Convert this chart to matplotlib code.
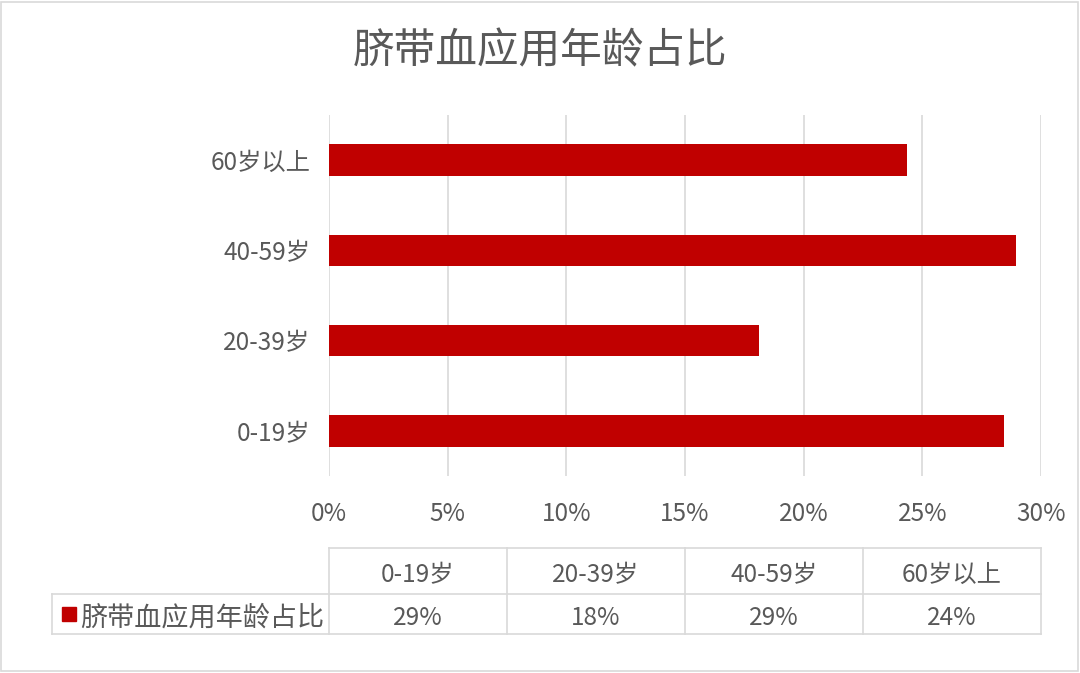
import matplotlib
matplotlib.use("Agg")
import matplotlib.pyplot as plt
from matplotlib.patches import Rectangle

plt.rcParams['font.family'] = ['Noto Sans CJK SC', 'DejaVu Sans']

title = "脐带血应用年龄占比"
categories = ["0-19岁", "20-39岁", "40-59岁", "60岁以上"]
values = [28.45, 18.1, 28.95, 24.35]          # percent
table_labels = ["29%", "18%", "29%", "24%"]
xticks = [0, 5, 10, 15, 20, 25, 30]
series_name = "脐带血应用年龄占比"

W, H = 1080, 673
bar_color = "#C00000"
text_color = "#595959"
grid_color = "#D9D9D9"
fs = 17.5

fig = plt.figure(figsize=(W / 100, H / 100), dpi=100)

def fx(px):
    return px / W

def fy(py):
    return 1 - py / H

# outer border
fig.patches.append(Rectangle((fx(1), fy(671)), fx(1077), (669) / H, transform=fig.transFigure,
                             fill=False, edgecolor=grid_color, linewidth=1.2))

# main plot area
L, R, T, B = 329, 1041, 115, 476
ax = fig.add_axes([fx(L), fy(B), fx(R - L), (B - T) / H])
y = list(range(len(categories)))
ax.barh(y, values, height=0.35, color=bar_color, zorder=3)
ax.set_xlim(0, 30)
ax.set_ylim(-0.5, len(categories) - 0.5)
ax.set_xticks(xticks)
ax.set_xticklabels([f"{v}%" for v in xticks], fontsize=fs, color=text_color)
ax.set_yticks(y)
ax.set_yticklabels(categories, fontsize=fs, color=text_color)
ax.tick_params(axis='both', length=0)
ax.tick_params(axis='x', pad=18)
ax.tick_params(axis='y', pad=13.5)
ax.grid(axis='x', color=grid_color, linewidth=1.2, zorder=0)
for s in ax.spines.values():
    s.set_visible(False)

fig.text(0.5, fy(52), title, ha='center', va='center', fontsize=30, color=text_color)

# data table
tab = fig.add_axes([0, 0, 1, 1], facecolor='none')
tab.set_xlim(0, W)
tab.set_ylim(H, 0)
tab.axis('off')
r0, r1, r2 = 548, 594, 634
ncol = len(categories)
colw = (R - L) / ncol
col_edges = [L + i * colw for i in range(ncol + 1)]
lw = 1.2
tab.plot([L, R], [r0, r0], color=grid_color, lw=lw)
tab.plot([52, R], [r1, r1], color=grid_color, lw=lw)
tab.plot([52, R], [r2, r2], color=grid_color, lw=lw)
for x in col_edges:
    tab.plot([x, x], [r0, r2], color=grid_color, lw=lw)
tab.plot([52, 52], [r1, r2], color=grid_color, lw=lw)
for i in range(ncol):
    cx = (col_edges[i] + col_edges[i + 1]) / 2
    tab.text(cx, (r0 + r1) / 2 + 4, categories[i], ha='center', va='center', fontsize=fs, color=text_color)
    tab.text(cx, (r1 + r2) / 2 + 4, table_labels[i], ha='center', va='center', fontsize=fs, color=text_color)
# legend key
tab.add_patch(Rectangle((62, 607), 14, 14, color=bar_color))
tab.text(80, (r1 + r2) / 2 + 4, series_name, ha='left', va='center', fontsize=19.5, color=text_color)

fig.savefig("out.png", dpi=100)
